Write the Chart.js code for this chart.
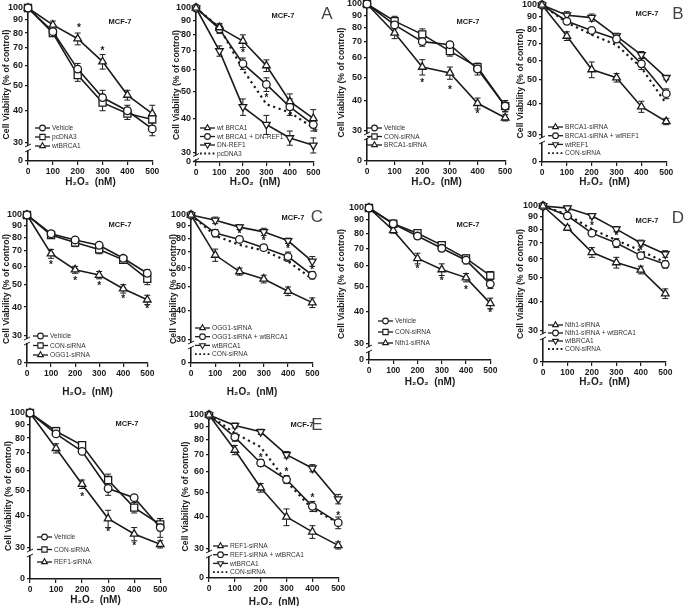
<!DOCTYPE html>
<html>
<head>
<meta charset="utf-8">
<script src="https://cdn.jsdelivr.net/npm/chart.js@4.4.1/dist/chart.umd.min.js"></script>
<style>
  html, body { margin: 0; padding: 0; background: #fff; }
  #page { position: relative; width: 685px; height: 606px; overflow: hidden; }
  #page canvas { position: absolute; }
  .tag { position: absolute; font: 17px "Liberation Sans", Arial, sans-serif; color: #444; transform: translate(-50%, -50%); line-height: 1; }
</style>
</head>
<body>
<div id="page"></div>
<script>
const doses = [0, 100, 200, 300, 400, 500];
const yTickValues = [30, 40, 50, 60, 70, 80, 90, 100];

// panel 1
const p1Vehicle = [100, 81, 58, 45, 40, 34];
const p1PcDNA3 = [100, 80, 55, 43, 39, 37];
const p1WtBRCA1 = [100, 86, 76, 62, 46, 39];
const p1VehicleErr = [0, 2, 3, 3, 2, 2];
const p1PcDNA3Err = [0, 2, 3, 3, 2, 2];
const p1WtBRCA1Err = [0, 3, 4, 4, 2, 3];
const p1Stars = [[205, 85], [300, 69]];

// panel 2
const p2WtBRCA1 = [100, 85, 76, 62, 46, 40];
const p2Combo = [100, 84, 63, 53, 44, 38];
const p2DnREF1 = [100, 70, 44, 38, 34, 32];
const p2PcDNA3 = [100, 85, 60, 45, 42, 37];
const p2WtBRCA1Err = [0, 3, 4, 3, 3, 3];
const p2ComboErr = [0, 3, 3, 3, 3, 2];
const p2DnREF1Err = [0, 3, 3, 3, 2, 2];
const p2Stars = [[200, 70], [300, 48], [400, 41], [510, 36]];

// panel 3
const p3Vehicle = [100, 82, 70, 68, 54, 38];
const p3ConSi = [100, 85, 75, 64, 55, 38];
const p3Brca1Si = [100, 76, 55, 52, 39, 34];
const p3VehicleErr = [0, 3, 3, 2, 3, 2];
const p3ConSiErr = [0, 4, 4, 3, 2, 2];
const p3Brca1SiErr = [0, 4, 4, 3, 2, 1];
const p3Stars = [[200, 48], [300, 45], [400, 36]];

// panel 4
const p4Brca1Si = [100, 75, 55, 51, 39, 34];
const p4Combo = [100, 86, 79, 73, 58, 44];
const p4WtREF1 = [100, 91, 89, 75, 63, 51];
const p4ConSi = [100, 85, 76, 69, 56, 40];
const p4Brca1SiErr = [0, 3, 4, 2, 2, 1];
const p4ComboErr = [0, 2, 2, 2, 3, 2];
const p4WtREF1Err = [0, 3, 3, 2, 2, 1];
const p4Stars = [];

// panel 5
const p5Vehicle = [100, 83, 78, 74, 65, 56];
const p5ConSi = [100, 82, 76, 71, 64, 53];
const p5Ogg1Si = [100, 68, 58, 55, 48, 43];
const p5VehicleErr = [0, 2, 2, 2, 1, 2];
const p5ConSiErr = [0, 2, 3, 3, 2, 3];
const p5Ogg1SiErr = [0, 3, 2, 2, 2, 2];
const p5Stars = [[100, 62], [200, 53], [300, 50], [400, 44], [500, 40]];

// panel 6
const p6Ogg1Si = [100, 68, 58, 54, 48, 43];
const p6Combo = [100, 84, 79, 73, 67, 56];
const p6WtBRCA1 = [100, 95, 89, 85, 78, 64];
const p6ConSi = [100, 82, 75, 71, 64, 54];
const p6Ogg1SiErr = [0, 4, 2, 2, 2, 2];
const p6ComboErr = [0, 3, 2, 2, 3, 2];
const p6WtBRCA1Err = [0, 3, 2, 3, 2, 3];
const p6Stars = [[200, 85], [300, 79], [400, 73], [500, 60]];

// panel 7
const p7Vehicle = [100, 87, 78, 70, 63, 51];
const p7ConSi = [100, 87, 80, 72, 64, 55];
const p7Nth1Si = [100, 82, 64, 58, 54, 43];
const p7VehicleErr = [0, 2, 2, 2, 2, 2];
const p7ConSiErr = [0, 2, 2, 2, 2, 2];
const p7Nth1SiErr = [0, 2, 3, 3, 2, 2];
const p7Stars = [[200, 59], [300, 53], [400, 49], [500, 40]];

// panel 8
const p8Nth1Si = [100, 81, 64, 58, 54, 43];
const p8Combo = [100, 91, 77, 70, 62, 57];
const p8WtBRCA1 = [100, 98, 91, 80, 70, 63];
const p8ConSi = [100, 92, 80, 72, 65, 58];
const p8Nth1SiErr = [0, 2, 3, 3, 2, 2];
const p8ComboErr = [0, 2, 2, 3, 2, 2];
const p8WtBRCA1Err = [0, 2, 2, 2, 2, 2];
const p8Stars = [[200, 84], [300, 76], [400, 66]];

// panel 9
const p9Vehicle = [100, 83, 71, 51, 47, 36];
const p9ConSi = [100, 85, 75, 55, 43, 37];
const p9Ref1Si = [100, 73, 53, 39, 34, 31];
const p9VehicleErr = [0, 2, 2, 3, 1, 3];
const p9ConSiErr = [0, 3, 2, 3, 2, 2];
const p9Ref1SiErr = [0, 3, 2, 3, 2, 1];
const p9Stars = [[200, 48], [300, 35], [400, 31]];

// panel 10
const p10Ref1Si = [100, 73, 52, 40, 35, 31];
const p10Combo = [100, 82, 65, 56, 44, 38];
const p10WtBRCA1 = [100, 91, 86, 70, 62, 47];
const p10ConSi = [100, 85, 75, 55, 43, 38];
const p10Ref1SiErr = [0, 3, 2, 3, 2, 1];
const p10ComboErr = [0, 3, 2, 2, 2, 2];
const p10WtBRCA1Err = [0, 2, 2, 2, 2, 2];
const p10Stars = [[200, 69], [300, 61], [400, 48], [500, 41]];

const panelLetters = [['A', 327, 13], ['B', 678, 13], ['C', 317, 216], ['D', 678, 217], ['E', 317, 424]];

const ink = '#1b1b1b';
const fontFamily = '"Liberation Sans", Arial, sans-serif';
const xMax = 503;
const markerSize = { circle: 3.8, rect: 5, triangle: 4.4, down: 4.4 };

Chart.defaults.font.family = fontFamily;
Chart.defaults.color = ink;

// geo: pixel positions on the page, used only for laying out each canvas
const panels = [
  { geo: { axisX: 28, x500: 152, y100: 8, y30: 143, y0: 161, titleX: 6, titleY: 182 },
    legend: { dx: 7, dy: 120, gap: 9 }, mcf: [92, 14], stars: p1Stars,
    series: [
      { label: 'Vehicle', values: p1Vehicle, err: p1VehicleErr, marker: 'circle' },
      { label: 'pcDNA3', values: p1PcDNA3, err: p1PcDNA3Err, marker: 'rect' },
      { label: 'wtBRCA1', values: p1WtBRCA1, err: p1WtBRCA1Err, marker: 'triangle' }
    ] },
  { geo: { axisX: 196, x500: 313, y100: 8, y30: 153, y0: 162, titleX: 176, titleY: 182 },
    legend: { dx: 4, dy: 120, gap: 8.5 }, mcf: [87, 8], stars: p2Stars,
    series: [
      { label: 'wt BRCA1', values: p2WtBRCA1, err: p2WtBRCA1Err, marker: 'triangle' },
      { label: 'wt BRCA1 + DN-REF1', values: p2Combo, err: p2ComboErr, marker: 'circle' },
      { label: 'DN-REF1', values: p2DnREF1, err: p2DnREF1Err, marker: 'down' },
      { label: 'pcDNA3', values: p2PcDNA3 }
    ] },
  { geo: { axisX: 367, x500: 505, y100: 4, y30: 131, y0: 161, titleX: 341, titleY: 182 },
    legend: { dx: 0, dy: 124, gap: 8.5 }, mcf: [101, 18], stars: p3Stars,
    series: [
      { label: 'Vehicle', values: p3Vehicle, err: p3VehicleErr, marker: 'circle' },
      { label: 'CON-siRNA', values: p3ConSi, err: p3ConSiErr, marker: 'rect' },
      { label: 'BRCA1-siRNA', values: p3Brca1Si, err: p3Brca1SiErr, marker: 'triangle' }
    ] },
  { geo: { axisX: 542, x500: 666, y100: 5, y30: 135, y0: 162, titleX: 520, titleY: 182 },
    legend: { dx: 6, dy: 122, gap: 8.7 }, mcf: [105, 9], stars: p4Stars,
    series: [
      { label: 'BRCA1-siRNA', values: p4Brca1Si, err: p4Brca1SiErr, marker: 'triangle' },
      { label: 'BRCA1-siRNA + wtREF1', values: p4Combo, err: p4ComboErr, marker: 'circle' },
      { label: 'wtREF1', values: p4WtREF1, err: p4WtREF1Err, marker: 'down' },
      { label: 'CON-siRNA', values: p4ConSi }
    ] },
  { geo: { axisX: 27, x500: 147, y100: 215, y30: 336, y0: 363, titleX: 6, titleY: 392 },
    legend: { dx: 6, dy: 121, gap: 9.5 }, mcf: [93, 10], stars: p5Stars,
    series: [
      { label: 'Vehicle', values: p5Vehicle, err: p5VehicleErr, marker: 'circle' },
      { label: 'CON-siRNA', values: p5ConSi, err: p5ConSiErr, marker: 'rect' },
      { label: 'OGG1-siRNA', values: p5Ogg1Si, err: p5Ogg1SiErr, marker: 'triangle' }
    ] },
  { geo: { axisX: 191, x500: 312, y100: 215, y30: 340, y0: 363, titleX: 173, titleY: 392 },
    legend: { dx: 4, dy: 113, gap: 8.7 }, mcf: [102, 3], stars: p6Stars,
    series: [
      { label: 'OGG1-siRNA', values: p6Ogg1Si, err: p6Ogg1SiErr, marker: 'triangle' },
      { label: 'OGG1-siRNA + wtBRCA1', values: p6Combo, err: p6ComboErr, marker: 'circle' },
      { label: 'wtBRCA1', values: p6WtBRCA1, err: p6WtBRCA1Err, marker: 'down' },
      { label: 'CON-siRNA', values: p6ConSi }
    ] },
  { geo: { axisX: 369, x500: 490, y100: 208, y30: 344, y0: 360, titleX: 341, titleY: 382 },
    legend: { dx: 9, dy: 113, gap: 11 }, mcf: [99, 17], stars: p7Stars,
    series: [
      { label: 'Vehicle', values: p7Vehicle, err: p7VehicleErr, marker: 'circle' },
      { label: 'CON-siRNA', values: p7ConSi, err: p7ConSiErr, marker: 'rect' },
      { label: 'Nth1-siRNA', values: p7Nth1Si, err: p7Nth1SiErr, marker: 'triangle' }
    ] },
  { geo: { axisX: 543, x500: 665, y100: 206, y30: 331, y0: 362, titleX: 520, titleY: 382 },
    legend: { dx: 5, dy: 119, gap: 8 }, mcf: [104, 15], stars: p8Stars,
    series: [
      { label: 'Nth1-siRNA', values: p8Nth1Si, err: p8Nth1SiErr, marker: 'triangle' },
      { label: 'Nth1-siRNA + wtBRCA1', values: p8Combo, err: p8ComboErr, marker: 'circle' },
      { label: 'wtBRCA1', values: p8WtBRCA1, err: p8WtBRCA1Err, marker: 'down' },
      { label: 'CON-siRNA', values: p8ConSi }
    ] },
  { geo: { axisX: 30, x500: 160, y100: 413, y30: 548, y0: 579, titleX: 8, titleY: 600 },
    legend: { dx: 7, dy: 124, gap: 12.5 }, mcf: [97, 11], stars: p9Stars,
    series: [
      { label: 'Vehicle', values: p9Vehicle, err: p9VehicleErr, marker: 'circle' },
      { label: 'CON-siRNA', values: p9ConSi, err: p9ConSiErr, marker: 'rect' },
      { label: 'REF1-siRNA', values: p9Ref1Si, err: p9Ref1SiErr, marker: 'triangle' }
    ] },
  { geo: { axisX: 209, x500: 338, y100: 415, y30: 549, y0: 578, titleX: 185, titleY: 602 },
    legend: { dx: 4, dy: 131, gap: 8.7 }, mcf: [93, 10], stars: p10Stars,
    series: [
      { label: 'REF1-siRNA', values: p10Ref1Si, err: p10Ref1SiErr, marker: 'triangle' },
      { label: 'REF1-siRNA + wtBRCA1', values: p10Combo, err: p10ComboErr, marker: 'circle' },
      { label: 'wtBRCA1', values: p10WtBRCA1, err: p10WtBRCA1Err, marker: 'down' },
      { label: 'CON-siRNA', values: p10ConSi }
    ] }
];

function buildDatasets(series) {
  return series.map((s) => {
    const dotted = !s.marker;
    return {
      label: s.label,
      data: doses.map((x, i) => ({ x, y: s.values[i] })),
      err: s.err || null,
      borderColor: ink,
      borderWidth: dotted ? 2.2 : 1.6,
      borderDash: dotted ? [2.2, 3.6] : [],
      pointStyle: s.marker === 'down' ? 'triangle' : (s.marker || 'circle'),
      pointRotation: s.marker === 'down' ? 180 : 0,
      pointRadius: dotted ? 0 : markerSize[s.marker],
      pointBackgroundColor: '#fff',
      pointBorderColor: ink,
      pointBorderWidth: 1.3,
      tension: 0,
      clip: false
    };
  });
}

function makeDecor(panel, v0) {
  return {
    id: 'decor',
    beforeDatasetsDraw(chart) {
      const { ctx, scales: { y } } = chart;
      ctx.save();
      ctx.strokeStyle = ink;
      ctx.lineWidth = 1;
      chart.data.datasets.forEach((ds, di) => {
        if (!ds.err) return;
        chart.getDatasetMeta(di).data.forEach((pt, i) => {
          const e = ds.err[i];
          if (!e) return;
          const v = ds.data[i].y;
          const y1 = y.getPixelForValue(v + e);
          const y2 = y.getPixelForValue(v - e);
          ctx.beginPath();
          ctx.moveTo(pt.x, y1); ctx.lineTo(pt.x, y2);
          ctx.moveTo(pt.x - 3, y1); ctx.lineTo(pt.x + 3, y1);
          ctx.moveTo(pt.x - 3, y2); ctx.lineTo(pt.x + 3, y2);
          ctx.stroke();
        });
      });
      ctx.restore();
    },
    afterDatasetsDraw(chart) {
      const { ctx, scales: { x, y } } = chart;
      ctx.save();
      ctx.fillStyle = ink;
      ctx.font = 'bold 10px ' + fontFamily;
      ctx.textAlign = 'center';
      ctx.textBaseline = 'middle';
      panel.stars.forEach(([sx, sy]) => {
        ctx.fillText('*', x.getPixelForValue(sx), y.getPixelForValue(sy) + 2);
      });
      ctx.restore();
    },
    afterDraw(chart) {
      const { ctx, chartArea: ca, scales: { y } } = chart;
      ctx.save();
      // axis break between 30 and 0
      const y30 = y.getPixelForValue(30);
      const yz = y.getPixelForValue(v0);
      const yb = Math.min(y30 + 5, (y30 + yz) / 2);
      ctx.fillStyle = '#fff';
      ctx.fillRect(ca.left - 4, yb - 2, 8, 4);
      ctx.strokeStyle = ink;
      ctx.lineWidth = 1;
      ctx.beginPath();
      ctx.moveTo(ca.left - 3, yb - 1); ctx.lineTo(ca.left + 3, yb - 4);
      ctx.moveTo(ca.left - 3, yb + 4); ctx.lineTo(ca.left + 3, yb + 1);
      ctx.stroke();

      // MCF-7 label
      ctx.fillStyle = ink;
      ctx.font = 'bold 7.5px ' + fontFamily;
      ctx.textAlign = 'center';
      ctx.textBaseline = 'middle';
      ctx.fillText('MCF-7', ca.left + panel.mcf[0], ca.top + panel.mcf[1]);

      // legend inside the plot
      ctx.font = '6.6px ' + fontFamily;
      ctx.textAlign = 'left';
      chart.data.datasets.forEach((ds, i) => {
        const lx = ca.left + panel.legend.dx;
        const ly = ca.top + panel.legend.dy + i * panel.legend.gap;
        ctx.strokeStyle = ink;
        ctx.lineWidth = ds.pointRadius ? 1.3 : 1.8;
        ctx.setLineDash(ds.pointRadius ? [] : [1.8, 2.4]);
        ctx.beginPath();
        ctx.moveTo(lx, ly); ctx.lineTo(lx + 15, ly);
        ctx.stroke();
        ctx.setLineDash([]);
        if (ds.pointRadius) {
          ctx.fillStyle = '#fff';
          ctx.lineWidth = 1.1;
          Chart.helpers.drawPoint(ctx, {
            pointStyle: ds.pointStyle,
            rotation: ds.pointRotation,
            radius: ds.pointRadius * 0.75,
            borderWidth: 1.1
          }, lx + 7.5, ly);
        }
        ctx.fillStyle = '#333';
        ctx.fillText(ds.label, lx + 17, ly + 0.5);
      });
      ctx.restore();
    }
  };
}

const page = document.getElementById('page');

panels.forEach((panel) => {
  const g = panel.geo;
  const yTitleHalf = 8.7 * 1.2 / 2;
  const left = Math.round(g.titleX - yTitleHalf);
  const top = g.y100 - 8;
  const yW = g.axisX - left;
  const pxPerDec = (g.y30 - g.y100) / Math.log10(100 / 30);
  const v0 = 100 * Math.pow(10, -(g.y0 - g.y100) / pxPerDec);
  const xH = g.titleY + 6 - g.y0;
  const plotW = (g.x500 - g.axisX) * xMax / 500;
  const w = Math.round(yW + plotW + 12);
  const h = Math.round(g.y0 + xH - top);

  const canvas = document.createElement('canvas');
  canvas.width = w;
  canvas.height = h;
  canvas.style.left = left + 'px';
  canvas.style.top = top + 'px';
  canvas.style.width = w + 'px';
  canvas.style.height = h + 'px';
  page.appendChild(canvas);

  new Chart(canvas, {
    type: 'line',
    data: { datasets: buildDatasets(panel.series) },
    options: {
      responsive: false,
      animation: false,
      layout: { padding: { left: 0, right: 12, top: 8, bottom: 0 } },
      plugins: { legend: { display: false }, tooltip: { enabled: false } },
      scales: {
        x: {
          type: 'linear',
          min: 0,
          max: xMax,
          afterBuildTicks: (s) => { s.ticks = doses.map((v) => ({ value: v })); },
          ticks: { font: { size: 8.5, weight: 'bold' }, color: ink, padding: 2, maxRotation: 0, callback: (v) => String(v) },
          grid: { drawOnChartArea: false, drawTicks: true, tickLength: 4, color: ink, lineWidth: 1.2 },
          border: { display: true, color: ink, width: 1.6 },
          title: { display: true, text: 'H\u2082O\u2082  (nM)', padding: 0, color: ink, font: { size: 10, weight: 'bold' } },
          afterFit: (s) => { s.height = xH; }
        },
        y: {
          type: 'logarithmic',
          min: v0,
          max: 100,
          afterBuildTicks: (s) => {
            s.ticks = [{ value: v0 }].concat(yTickValues.map((v) => ({ value: v })));
          },
          ticks: {
            autoSkip: false,
            font: { size: 9, weight: 'bold' },
            color: ink,
            padding: 2,
            callback: (v) => (Math.abs(v - v0) < 0.01 ? '0' : String(v))
          },
          grid: { drawOnChartArea: false, drawTicks: true, tickLength: 3, color: ink, lineWidth: 1.2 },
          border: { display: true, color: ink, width: 1.6 },
          title: { display: true, text: 'Cell Viability (% of control)', padding: 0, color: ink, font: { size: 8.7, weight: 'bold' } },
          afterFit: (s) => { s.width = yW; }
        }
      }
    },
    plugins: [makeDecor(panel, v0)]
  });
});

panelLetters.forEach(([t, x, y]) => {
  const el = document.createElement('div');
  el.className = 'tag';
  el.textContent = t;
  el.style.left = x + 'px';
  el.style.top = y + 'px';
  page.appendChild(el);
});
</script>
</body>
</html>
